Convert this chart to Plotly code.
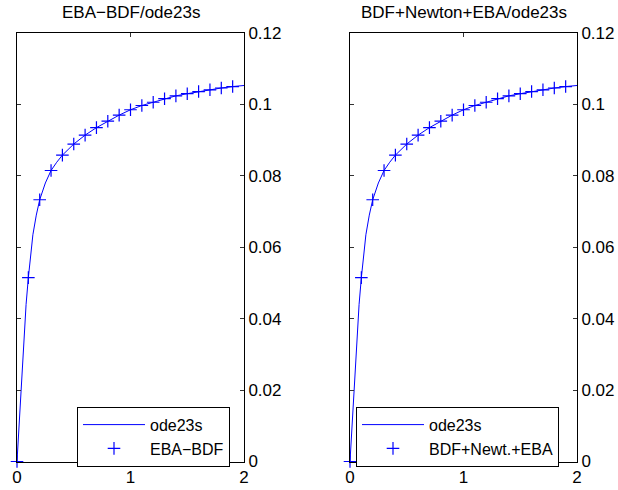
import plotly.graph_objects as go

# ode23s reference solution (solid line)
t_ode = [0, 0.02, 0.04, 0.06, 0.08, 0.1, 0.12, 0.14, 0.17, 0.2, 0.25, 0.3, 0.35,
         0.4, 0.5, 0.6, 0.7, 0.8, 0.9, 1.0, 1.1, 1.2, 1.3, 1.4, 1.5, 1.6, 1.7,
         1.8, 1.9, 2.0]
y_ode = [0, 0.0115, 0.0225, 0.0335, 0.0440, 0.0515, 0.0580, 0.0635, 0.0690,
         0.0733, 0.0780, 0.0815, 0.0838, 0.0858, 0.0889, 0.0914, 0.0935, 0.0953,
         0.0970, 0.0985, 0.0997, 0.1006, 0.1016, 0.1024, 0.1030, 0.1036, 0.1041,
         0.1046, 0.1050, 0.1053]

# EBA-BDF markers
t_eba = [0, 0.1, 0.2, 0.3, 0.4, 0.5, 0.6, 0.7, 0.8, 0.9, 1.0, 1.1, 1.2, 1.3,
         1.4, 1.5, 1.6, 1.7, 1.8, 1.9]
y_eba = [0, 0.0515, 0.0733, 0.0815, 0.0858, 0.0889, 0.0914, 0.0935, 0.0953,
         0.0970, 0.0985, 0.0997, 0.1006, 0.1016, 0.1024, 0.1030, 0.1036, 0.1041,
         0.1046, 0.1050]

# BDF+Newton+EBA markers
t_bne = t_eba
y_bne = y_eba

x_ticks = [0, 1, 2]
y_ticks = [0, 0.02, 0.04, 0.06, 0.08, 0.1, 0.12]
y_ticktext = ["0", "0.02", "0.04", "0.06", "0.08", "0.1", "0.12"]

titles = ["EBA\u2212BDF/ode23s", "BDF+Newton+EBA/ode23s"]
marker_names = ["EBA\u2212BDF", "BDF+Newt.+EBA"]

W, H = 618, 490
FONT = "Liberation Sans, Arial, Helvetica, sans-serif"
BLUE = "#0000ff"

fig = go.Figure()

panels = [(17, 244, "x", "y", "legend", y_eba, t_eba, 77),
          (350, 577, "x2", "y2", "legend2", y_bne, t_bne, 356)]
top_px, bot_px = 33, 461.5

for i, (x0, x1, xa, ya, lg, ym, tm, lgx) in enumerate(panels):
    fig.add_trace(go.Scatter(x=t_ode, y=y_ode, mode="lines", name="ode23s",
                             line=dict(color=BLUE, width=1), xaxis=xa, yaxis=ya,
                             legend=lg, cliponaxis=False))
    fig.add_trace(go.Scatter(x=tm, y=ym, mode="markers", name=marker_names[i],
                             marker=dict(symbol="cross-thin", size=9,
                                         line=dict(color=BLUE, width=1.2), color=BLUE),
                             xaxis=xa, yaxis=ya, legend=lg, cliponaxis=False))
    axis_common = dict(showline=True, linecolor="black", linewidth=1, mirror="allticks",
                       ticks="inside", ticklen=4, tickcolor="#333", showgrid=False,
                       zeroline=False, automargin=False,
                       tickfont=dict(family=FONT, size=17, color="black"))
    xkey = "xaxis" if xa == "x" else "xaxis2"
    ykey = "yaxis" if ya == "y" else "yaxis2"
    fig.layout[xkey] = dict(domain=[x0 / W, x1 / W], range=[0, 2], tickvals=x_ticks,
                            anchor=ya, fixedrange=True, **axis_common)
    fig.layout[ykey] = dict(domain=[(H - bot_px) / H, (H - top_px) / H], range=[0, 0.12],
                            tickvals=y_ticks, ticktext=y_ticktext, side="right",
                            anchor=xa, fixedrange=True, **axis_common)
    fig.add_annotation(text=titles[i], xref="paper", yref="paper",
                       x=(x0 + x1) / 2 / W, y=(H - 13) / H, showarrow=False,
                       xanchor="center", yanchor="middle",
                       font=dict(family=FONT, size=17, color="black"))
    fig.layout[lg] = dict(x=lgx / W, y=(H - 406.7) / H, xanchor="left", yanchor="top",
                          bgcolor="white", bordercolor="black", borderwidth=1,
                          font=dict(family=FONT, size=16, color="black"),
                          itemwidth=62, tracegroupgap=0)

fig.update_layout(width=W, height=H, margin=dict(l=0, r=0, t=0, b=0),
                  paper_bgcolor="white", plot_bgcolor="white", showlegend=True)

fig.write_html("out.html",
               config={"displayModeBar": False, "staticPlot": True},
               post_script="document.body.style.margin='0';"
                           "document.body.style.overflow='hidden';")
